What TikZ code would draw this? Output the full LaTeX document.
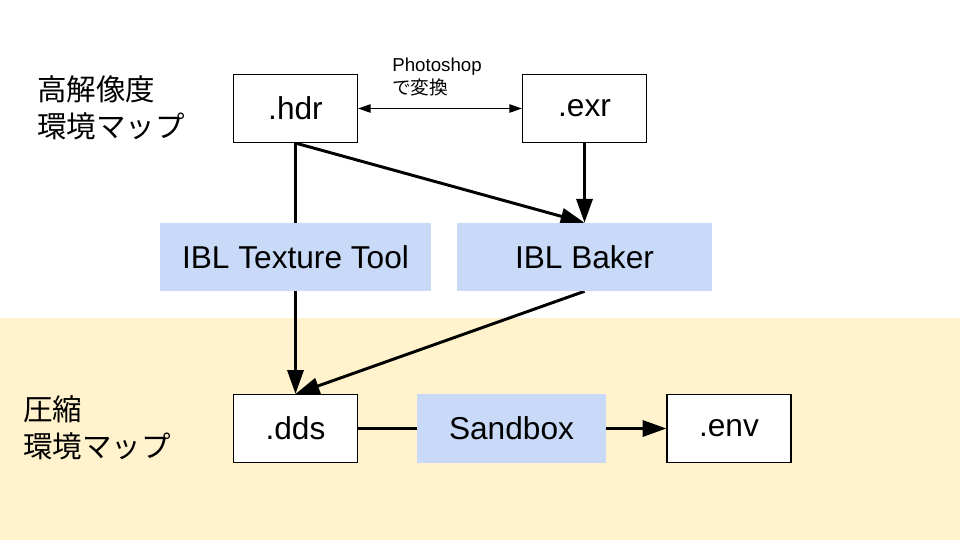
\documentclass[tikz,border=0pt]{standalone}
\usepackage{fontspec}
\setmainfont{Liberation Sans}
\newfontfamily\jpfont{Noto Sans CJK JP}
\usetikzlibrary{arrows.meta}
\definecolor{mapbg}{HTML}{FFF2CC}
\definecolor{toolblue}{HTML}{C9DAF8}
\pgfdeclarelayer{bg}
\pgfsetlayers{bg,main}
\tikzset{
  filebox/.style={draw=black, line width=0.8pt, fill=white, minimum width=3.1cm, minimum height=1.7cm, font=\fontsize{22.5}{26}\selectfont},
  toolbox/.style={fill=toolblue, minimum height=1.7cm, font=\fontsize{22.5}{26}\selectfont},
  flow/.style={line width=2.1pt, -{Triangle[length=17pt,width=11.5pt]}},
  maplabel/.style={align=left, anchor=west, inner sep=0pt, font=\jpfont\fontsize{21}{26.5}\selectfont}
}

\begin{document}
\begin{tikzpicture}[x=0.025cm, y=-0.025cm]
\useasboundingbox (0,0) rectangle (960,540);

\node[filebox] (hdr) at (295.5,108.5) {.hdr};
\node[filebox] (exr) at (584.5,108.5) {.exr};
\node[toolbox, minimum width=6.775cm] (ttool) at (295.5,257) {IBL Texture Tool};
\node[toolbox, minimum width=6.375cm] (baker) at (584.5,257) {IBL Baker};
\node[filebox] (dds) at (295.5,428.5) {.dds};
\node[toolbox, minimum width=4.725cm] (sandbox) at (511.5,428.5) {Sandbox};
\node[filebox] (env) at (729,428.5) {.env};

\node[maplabel] (hires) at (37,108) {高解像度\\環境マップ};
\node[maplabel] (comp) at (23,428) {圧縮\\環境マップ};
\node[anchor=west, align=left, inner sep=0pt, font=\fontsize{13.3}{16.5}\selectfont] (conv) at (392,77) {Photoshop\\{\jpfont で変換}};

\begin{pgfonlayer}{bg}
\fill[mapbg] (0,318) rectangle (960,540);
\draw[line width=1pt, {Triangle[length=9pt,width=6pt]}-{Triangle[length=9pt,width=6pt]}] (hdr.east) -- (exr.west);
\draw[flow] (hdr.south) -- (dds.north);
\draw[flow] (hdr.south) -- (baker.north);
\draw[flow] (exr.south) -- (baker.north);
\draw[flow] (baker.south) -- (dds.north);
\draw[line width=2.1pt] (dds.east) -- (sandbox.west);
\draw[flow] (sandbox.east) -- (env.west);
\end{pgfonlayer}
\end{tikzpicture}
\end{document}
